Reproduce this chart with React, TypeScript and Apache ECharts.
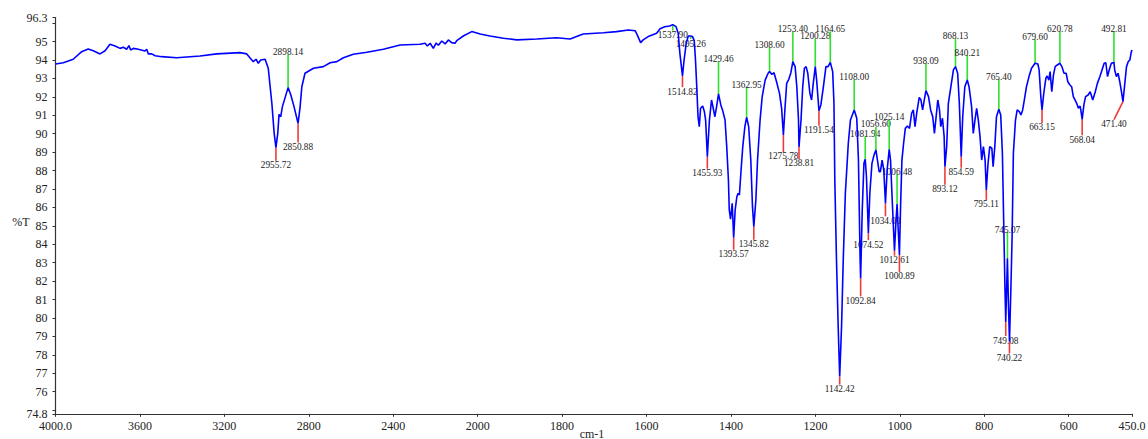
import React, { useEffect, useRef } from "react";
import * as echarts from "echarts";

// ---- spectrum (wavenumber cm-1, %T) ----
const wavenumbers = [
  4000, 3963, 3916, 3876, 3845, 3821, 3789, 3765, 3742, 3718, 3694, 3679, 3663, 3652, 3644, 3631, 3608, 3576, 3568, 3560,
  3544, 3528, 3497, 3426, 3315, 3236, 3126, 3094, 3063, 3050, 3039, 3028, 3007, 2992, 2975, 2964, 2955.72, 2947, 2941, 2933,
  2925, 2898.14, 2885, 2870, 2850.88, 2841, 2833, 2818, 2778, 2731, 2699, 2667, 2636, 2589, 2525, 2447, 2367, 2273, 2249, 2238,
  2225, 2210, 2197, 2186, 2170, 2154, 2139, 2123, 2107, 2099, 2068, 2028, 1994, 1971, 1939, 1907, 1860, 1813, 1781, 1750,
  1702, 1671, 1643, 1627, 1622, 1614, 1608, 1596, 1576, 1568, 1557, 1545, 1537.9, 1530, 1525, 1521, 1514.82, 1511, 1506, 1501,
  1495.26, 1491, 1487, 1484, 1481, 1478, 1475, 1472, 1467, 1463, 1460, 1455.93, 1451, 1446, 1442, 1438, 1434, 1429.46, 1424, 1420,
  1414, 1410, 1406, 1404, 1401, 1397, 1393.57, 1390, 1386, 1383, 1380, 1376, 1372, 1367, 1362.95, 1358, 1353, 1349, 1345.82, 1341,
  1337, 1331, 1326, 1319, 1312, 1308.6, 1303, 1298, 1292, 1285, 1280, 1275.78, 1272, 1268, 1263, 1258, 1253.4, 1248, 1244, 1240,
  1238.81, 1234, 1230, 1226, 1222, 1218, 1213, 1209, 1205, 1200.28, 1197, 1191.54, 1187, 1181, 1175, 1170, 1164.65, 1159, 1156, 1154,
  1150, 1146, 1142.42, 1138, 1134, 1129, 1122, 1117, 1108, 1102, 1098, 1094, 1092.84, 1089, 1085, 1081.94, 1079, 1074.52, 1071, 1066,
  1061, 1056.6, 1053, 1049, 1046, 1042, 1038, 1034, 1030, 1025.14, 1022, 1018, 1012.61, 1009, 1006.48, 1004, 1000.89, 998, 995, 991,
  987, 982, 977, 972, 968, 964, 960, 954, 950, 946, 942, 938.09, 932, 927, 922, 918, 914, 910, 906, 903,
  899, 895, 893.12, 889, 885, 879, 873, 868.13, 863, 859, 854.59, 851, 846, 840.21, 836, 830, 826, 822, 818, 814,
  810, 806, 802, 798, 795.11, 791, 787, 782, 779, 775, 771, 765.4, 761, 757, 754, 751, 749.08, 745.07, 743, 740.22,
  737, 734, 731, 726, 722, 717, 713, 709, 705, 700, 694, 688, 679.6, 673, 670, 666, 663.15, 659, 654, 651,
  647, 644, 640, 636, 632, 627, 620.78, 616, 611, 606, 602, 597, 593, 589, 585, 581, 577, 573, 571, 568.04,
  564, 560, 554, 549, 543, 537, 532, 526, 521, 516, 512, 508, 504, 499, 492.81, 491, 487, 483, 479, 475,
  471.4, 467, 463, 459, 455, 452, 450,
];

const transmittance = [
  93.78, 93.85, 94.04, 94.45, 94.6, 94.5, 94.33, 94.5, 94.85, 94.76, 94.63, 94.69, 94.58, 94.78, 94.54, 94.63, 94.58, 94.49, 94.58, 94.33,
  94.33, 94.23, 94.18, 94.12, 94.22, 94.33, 94.4, 94.33, 93.91, 94.04, 93.82, 94.0, 94.04, 93.55, 91.65, 90.02, 89.24, 90.02, 91.05, 90.92,
  91.47, 92.5, 92.1, 91.47, 90.56, 91.47, 92.55, 93.28, 93.55, 93.64, 93.85, 93.91, 94.12, 94.31, 94.42, 94.58, 94.81, 94.85, 94.91, 94.76,
  94.91, 94.63, 94.91, 94.8, 95.03, 94.87, 95.09, 94.94, 94.91, 95.05, 95.3, 95.54, 95.41, 95.3, 95.18, 95.09, 95.14, 95.21, 95.14, 95.41,
  95.48, 95.54, 95.63, 95.59, 95.36, 94.94, 95.09, 95.27, 95.45, 95.7, 95.8, 95.84, 95.92, 95.81, 95.45, 94.36, 93.13, 94.0, 94.9, 95.3,
  95.3, 95.27, 95.05, 94.0, 92.55, 90.92, 90.38, 91.38, 91.5, 91.2, 90.74, 88.75, 90.74, 91.83, 91.38, 90.92, 91.47, 92.16, 91.56, 91.29,
  90.74, 89.3, 87.49, 85.86, 85.36, 86.22, 84.35, 85.86, 86.58, 86.77, 86.67, 88.03, 89.3, 90.38, 90.89, 90.38, 88.57, 86.04, 84.95, 86.4,
  88.57, 90.74, 92.01, 92.91, 93.28, 93.37, 93.22, 93.31, 92.82, 92.19, 91.38, 89.93, 91.38, 92.73, 92.95, 93.31, 93.91, 93.64, 92.55, 90.74,
  89.28, 90.74, 92.55, 93.55, 93.64, 93.28, 92.19, 91.83, 92.73, 93.64, 92.91, 91.25, 91.56, 92.55, 93.64, 93.64, 93.87, 93.37, 91.65, 87.5,
  83.15, 79.53, 76.82, 79.53, 83.15, 86.77, 89.48, 90.74, 91.29, 90.84, 88.57, 83.15, 82.15, 85.86, 88.39, 88.61, 87.66, 84.6, 86.77, 88.39,
  88.85, 89.12, 88.57, 87.94, 87.94, 88.57, 88.03, 86.22, 88.03, 89.15, 88.57, 86.4, 83.65, 85.3, 86.18, 84.9, 83.42, 86.22, 88.57, 89.48,
  90.29, 90.42, 90.29, 91.11, 91.29, 90.38, 91.11, 91.97, 91.83, 91.29, 91.83, 92.34, 92.01, 91.29, 90.92, 90.02, 90.92, 91.83, 91.29, 90.38,
  90.84, 89.84, 88.21, 89.3, 91.65, 92.55, 93.46, 93.64, 93.28, 91.65, 88.75, 90.92, 92.55, 92.91, 92.55, 91.47, 90.02, 90.74, 91.38, 90.74,
  89.84, 88.57, 89.3, 88.57, 86.95, 88.39, 89.3, 89.21, 88.21, 89.3, 90.92, 91.33, 91.02, 88.94, 85.32, 81.7, 79.78, 83.24, 81.0, 78.72,
  81.5, 84.41, 88.94, 90.74, 91.29, 91.2, 91.02, 91.29, 91.83, 92.55, 93.1, 93.55, 93.82, 93.78, 93.46, 92.01, 91.29, 92.19, 93.01, 93.13,
  92.91, 93.37, 92.28, 93.19, 93.64, 93.73, 93.82, 93.64, 93.28, 93.28, 92.82, 92.64, 92.55, 92.01, 91.83, 91.65, 91.38, 91.5, 91.25, 90.78,
  91.56, 92.01, 92.1, 92.28, 91.83, 92.28, 92.73, 93.1, 93.46, 93.82, 93.85, 93.1, 93.46, 93.82, 93.87, 93.46, 93.1, 93.28, 92.82, 92.28,
  91.74, 92.73, 93.64, 93.91, 94.0, 94.4, 94.54,
];

// ---- labelled peaks ----
const peakWavenumbers = [
  2955.72, 2898.14, 2850.88, 1537.9, 1514.82, 1495.26, 1455.93, 1429.46, 1393.57, 1362.95, 1345.82, 1308.6, 1275.78, 1253.4, 1238.81,
  1200.28, 1191.54, 1164.65, 1142.42, 1108.0, 1092.84, 1081.94, 1074.52, 1056.6, 1034.0, 1025.14, 1012.61, 1006.48, 1000.89, 938.09,
  893.12, 868.13, 854.59, 840.21, 795.11, 765.4, 749.08, 745.07, 740.22, 679.6, 663.15, 620.78, 568.04, 492.81, 471.4,
];
const peakTransmittance = [
  89.24, 92.5, 90.56, 95.92, 93.13, 95.3, 88.75, 92.16, 84.35, 90.89, 84.95, 93.37, 89.93, 93.91, 89.28,
  93.64, 91.25, 93.87, 76.82, 91.29, 82.15, 88.61, 84.6, 89.12, 86.22, 89.15, 83.65, 86.18, 83.42, 92.34,
  88.21, 93.64, 88.75, 92.91, 86.95, 91.33, 79.78, 83.24, 78.72, 93.82, 91.29, 93.82, 90.78, 93.87, 91.74,
];
const peakKinds = [
  "min", "max", "min", "max", "min", "max", "min", "max", "min", "max", "min", "max", "min", "max", "min",
  "max", "min", "max", "min", "max", "min", "max", "min", "max", "min", "max", "min", "max", "min", "max",
  "min", "max", "min", "max", "min", "max", "min", "max", "min", "max", "min", "max", "min", "max", "min",
];

// label leader layout (pixels; positive = downward)
const leaderDy = [
  13, -33, 19, 6, 11, 3, 12, -32, 12, -30, 13, -24, 17, -30, 12,
  -28, 15, -31, 8, -30, 18, -23, 7, -23, 13, -30, 5, -30, 17, -27,
  18, -28, 11, -25, 10, -30, 14, -26, 12, -24, 13, -32, 16, -31, 18,
];
const leaderDx = [
  0, 0, 0, 0, 0, 0, 0, 0, 0, 0, 0, 0, 0, 0, 0,
  0, 0, 0, 0, 0, 0, 0, 0, 0, 0, 0, 0, 0, 0, 0,
  0, 0, 0, 0, 0, 0, 0, 0, 0, 0, 0, 0, 0, 0, -9,
];

// ---- axis ticks ----
const xTickWavenumbers = [4000, 3600, 3200, 2800, 2400, 2000, 1800, 1600, 1400, 1200, 1000, 800, 600, 450];
const xTickLabels = ["4000.0", "3600", "3200", "2800", "2400", "2000", "1800", "1600", "1400", "1200", "1000", "800", "600", "450.0"];
const yTickValues = [74.8, 75, 76, 77, 78, 79, 80, 81, 82, 83, 84, 85, 86, 87, 88, 89, 90, 91, 92, 93, 94, 95, 96, 96.3];
const yLabelValues = [74.8, 76, 77, 78, 79, 80, 81, 82, 83, 84, 85, 86, 87, 88, 89, 90, 91, 92, 93, 94, 95, 96.3];

const SERIF = "'Liberation Serif', 'Times New Roman', 'DejaVu Serif', serif";
const BLUE = "#0000ff";
const GREEN = "#2fe02f";
const RED = "#f03a3a";

// the instrument plots 2000-450 cm-1 at twice the scale of 4000-2000 cm-1
const toU = (w: number) => (w >= 2000 ? 4000 - w : 2000 + 2 * (2000 - w));

export default function App() {
  const ref = useRef<HTMLDivElement>(null);

  useEffect(() => {
    if (!ref.current) return;
    const chart = echarts.init(ref.current, null, { renderer: "svg" });

    const xTickU = xTickWavenumbers.map(toU);
    const lineData = wavenumbers.map((w, i) => [toU(w), transmittance[i]]);
    const peakData = peakWavenumbers.map((w, i) => [toU(w), peakTransmittance[i]]);

    const option: any = {
      animation: false,
      backgroundColor: "#ffffff",
      grid: {
        left: 55.5,
        right: 16,
        top: 17.6,
        bottom: 25.2,
        containLabel: false,
        outerBoundsMode: "none",
      },
      xAxis: {
        type: "value",
        min: 0,
        max: 5100,
        axisLine: { show: true, onZero: false, lineStyle: { color: "#333", width: 1.2 } },
        axisTick: { show: true, length: 3, customValues: xTickU, lineStyle: { color: "#333", width: 1 } },
        axisLabel: {
          customValues: xTickU,
          margin: 6,
          fontSize: 12,
          fontFamily: SERIF,
          color: "#222",
          formatter: (v: number) => {
            const idx = xTickU.findIndex((u) => Math.abs(u - v) < 1e-6);
            return idx >= 0 ? xTickLabels[idx] : "";
          },
        },
        splitLine: { show: false },
      },
      yAxis: {
        type: "value",
        min: 74.8,
        max: 96.3,
        axisLine: { show: true, onZero: false, lineStyle: { color: "#333", width: 1.2 } },
        axisTick: { show: true, length: 3, customValues: yTickValues, lineStyle: { color: "#333", width: 1 } },
        axisLabel: {
          customValues: yLabelValues,
          margin: 8,
          fontSize: 12,
          fontFamily: SERIF,
          color: "#222",
          formatter: (v: number) => (Math.abs(v - Math.round(v)) < 1e-6 ? String(Math.round(v)) : v.toFixed(1)),
        },
        splitLine: { show: false },
      },
      graphic: [
        {
          type: "text",
          x: 21,
          y: 222,
          style: { text: "%T", fontSize: 12, fontFamily: SERIF, fill: "#222", align: "center", verticalAlign: "middle" },
        },
        {
          type: "text",
          x: 592,
          y: 434,
          style: { text: "cm-1", fontSize: 12, fontFamily: SERIF, fill: "#222", align: "center", verticalAlign: "middle" },
        },
      ],
      series: [
        {
          type: "custom",
          data: peakData,
          z: 2,
          silent: true,
          renderItem: (params: any, api: any) => {
            const i = params.dataIndex;
            const p = api.coord([api.value(0), api.value(1)]);
            const dy = leaderDy[i];
            const ex = p[0] + leaderDx[i];
            const ey = p[1] + dy;
            const color = peakKinds[i] === "max" ? GREEN : RED;
            const down = dy > 0;
            return {
              type: "group",
              children: [
                {
                  type: "line",
                  shape: { x1: p[0], y1: p[1], x2: ex, y2: ey },
                  style: { stroke: color, lineWidth: 1.6 },
                },
                {
                  type: "text",
                  style: {
                    text: peakWavenumbers[i].toFixed(2),
                    x: ex,
                    y: down ? ey : ey + 2,
                    align: "center",
                    verticalAlign: down ? "top" : "bottom",
                    fontSize: 9.3,
                    fontFamily: SERIF,
                    fill: "#222",
                  },
                },
              ],
            };
          },
        },
        {
          type: "line",
          data: lineData,
          z: 3,
          showSymbol: false,
          symbol: "none",
          silent: true,
          lineStyle: { color: BLUE, width: 1.6 },
        },
      ],
    };

    chart.setOption(option);
    return () => chart.dispose();
  }, []);

  return (
    <div
      ref={ref}
      style={{ position: "fixed", left: 0, top: 0, width: 1148, height: 439, background: "#fff" }}
    />
  );
}
